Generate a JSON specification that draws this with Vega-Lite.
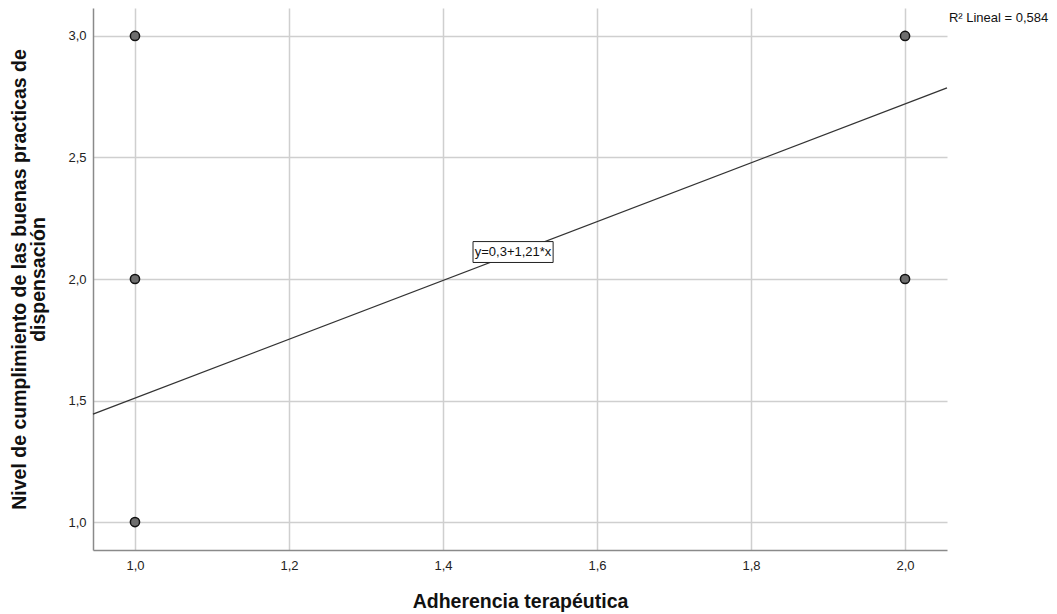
{
  "$schema": "https://vega.github.io/schema/vega-lite/v6.json",
  "width": 854,
  "height": 542,
  "autosize": {"type": "none"},
  "padding": {"left": 93, "top": 8, "right": 110, "bottom": 64},
  "background": "white",
  "config": {
    "font": "Liberation Sans",
    "view": {"stroke": null},
    "axis": {
      "labelFont": "Liberation Sans",
      "labelFontSize": 13,
      "labelColor": "#222",
      "titleFont": "Liberation Sans",
      "titleFontSize": 19.5,
      "titleFontWeight": "bold",
      "titleColor": "#111",
      "gridColor": "#cfcfcf",
      "gridWidth": 1.5,
      "domainColor": "#8a8a8a",
      "domainWidth": 1.5,
      "ticks": false
    }
  },
  "layer": [
    {
      "data": {"values": [
        {"adherencia": 1.0, "nivel": 1.0},
        {"adherencia": 1.0, "nivel": 2.0},
        {"adherencia": 1.0, "nivel": 3.0},
        {"adherencia": 2.0, "nivel": 2.0},
        {"adherencia": 2.0, "nivel": 3.0}
      ]},
      "mark": {"type": "point", "filled": true, "fill": "#6e6e6e", "stroke": "#111", "strokeWidth": 1.5, "size": 85, "opacity": 1},
      "encoding": {
        "x": {
          "field": "adherencia", "type": "quantitative",
          "scale": {"domain": [0.9455, 2.0545], "nice": false, "zero": false},
          "axis": {"values": [1.0, 1.2, 1.4, 1.6, 1.8, 2.0], "labelExpr": "replace(format(datum.value, '.1f'), '.', ',')", "labelPadding": 9, "title": "Adherencia terapéutica", "titlePadding": 20}
        },
        "y": {
          "field": "nivel", "type": "quantitative",
          "scale": {"domain": [0.885, 3.115], "nice": false, "zero": false},
          "axis": {"values": [1.0, 1.5, 2.0, 2.5, 3.0], "labelExpr": "replace(format(datum.value, '.1f'), '.', ',')", "labelPadding": 7, "title": ["Nivel de cumplimiento de las buenas practicas de", "dispensación"], "titlePadding": 19, "titleLineHeight": 19}
        }
      }
    },
    {
      "data": {"values": [
        {"adherencia": 0.9455, "nivel": 1.444},
        {"adherencia": 2.0545, "nivel": 2.786}
      ]},
      "mark": {"type": "line", "color": "#333333", "strokeWidth": 1.3},
      "encoding": {
        "x": {"field": "adherencia", "type": "quantitative"},
        "y": {"field": "nivel", "type": "quantitative"}
      }
    },
    {
      "data": {"values": [
        {"x1": 1.439, "x2": 1.543, "y1": 2.068, "y2": 2.154}
      ]},
      "mark": {"type": "rect", "fill": "white", "stroke": "#222", "strokeWidth": 1},
      "encoding": {
        "x": {"field": "x1", "type": "quantitative"},
        "x2": {"field": "x2"},
        "y": {"field": "y1", "type": "quantitative"},
        "y2": {"field": "y2"}
      }
    },
    {
      "data": {"values": [
        {"x": 1.491, "y": 2.111, "label": "y=0,3+1,21*x"}
      ]},
      "mark": {"type": "text", "fontSize": 13, "color": "#111", "align": "center", "baseline": "middle"},
      "encoding": {
        "x": {"field": "x", "type": "quantitative"},
        "y": {"field": "y", "type": "quantitative"},
        "text": {"field": "label"}
      }
    },
    {
      "data": {"values": [
        {"x": 2.057, "y": 3.074, "label": "R² Lineal = 0,584"}
      ]},
      "mark": {"type": "text", "fontSize": 13, "color": "#111", "align": "left", "baseline": "middle", "clip": false},
      "encoding": {
        "x": {"field": "x", "type": "quantitative"},
        "y": {"field": "y", "type": "quantitative"},
        "text": {"field": "label"}
      }
    }
  ]
}
